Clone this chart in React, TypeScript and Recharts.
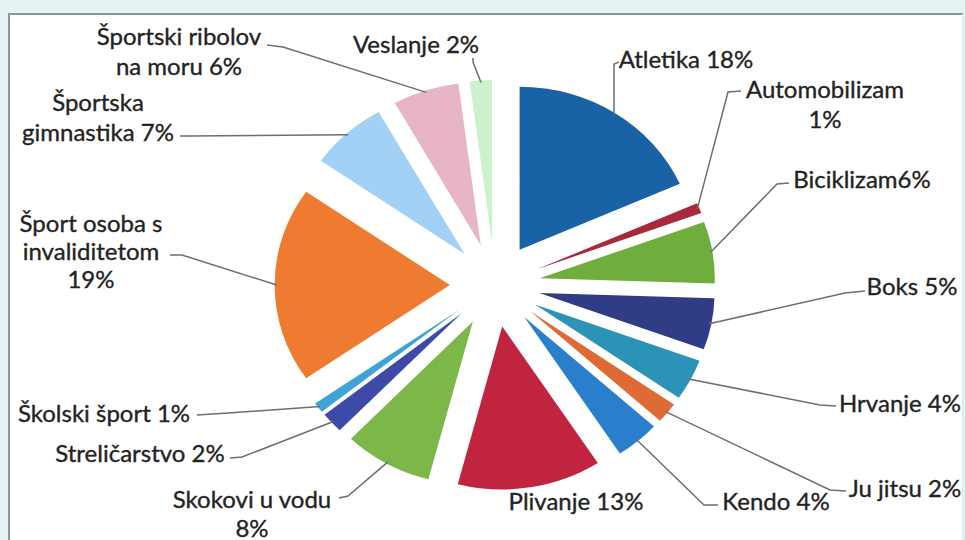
import { PieChart, Pie, Cell, Sector } from 'recharts'

const NAMES = [
  'Atletika',
  'Automobilizam',
  'Biciklizam',
  'Boks',
  'Hrvanje',
  'Ju jitsu',
  'Kendo',
  'Plivanje',
  'Skokovi u vodu',
  'Streličarstvo',
  'Školski šport',
  'Šport osoba s invaliditetom',
  'Športska gimnastika',
  'Športski ribolov na moru',
  'Veslanje',
]

const SHARES = [18, 1, 6, 5, 4, 2, 4, 13, 8, 2, 1, 19, 7, 6, 2]

const COLORS = [
  '#1a62a6',
  '#a8283c',
  '#6fae3d',
  '#2e3d86',
  '#2b93b6',
  '#df6a33',
  '#2a7fcc',
  '#c0243f',
  '#7cb74a',
  '#3d4aa8',
  '#3fa3d8',
  '#ee7b30',
  '#a3d1f6',
  '#e7b5c7',
  '#ccf2cc',
]

// label text lines + where Excel put them (text centre, leader start, elbow)
type LabelLayout = { lines: string[]; x: number; y: number[]; leader?: [number, number][] }
const LABELS: LabelLayout[] = [
  { lines: ['Atletika 18%'], x: 686, y: [58], leader: [[619, 62], [614, 64]] },
  { lines: ['Automobilizam', '1%'], x: 825, y: [88, 118], leader: [[741, 91], [728, 92]] },
  { lines: ['Biciklizam6%'], x: 862, y: [178], leader: [[789, 183], [777, 184]] },
  { lines: ['Boks 5%'], x: 912, y: [285], leader: [[865, 291], [845, 293]] },
  { lines: ['Hrvanje 4%'], x: 900, y: [402], leader: [[836, 406], [820, 405]] },
  { lines: ['Ju jitsu 2%'], x: 905, y: [487], leader: [[846, 491], [830, 490]] },
  { lines: ['Kendo 4%'], x: 776, y: [500], leader: [[718, 505], [704, 505]] },
  { lines: ['Plivanje 13%'], x: 576, y: [500] },
  { lines: ['Skokovi u vodu', '8%'], x: 252, y: [498, 527], leader: [[339, 498], [348, 496]] },
  { lines: ['Streličarstvo 2%'], x: 140, y: [452], leader: [[230, 458], [242, 457]] },
  { lines: ['Školski šport 1%'], x: 104, y: [412], leader: [[197, 415], [228, 413]] },
  { lines: ['Šport osoba s', 'invaliditetom', '19%'], x: 91, y: [222, 250, 278], leader: [[170, 255], [182, 255]] },
  { lines: ['Športska', 'gimnastika 7%'], x: 98, y: [101, 131], leader: [[180, 136], [190, 136]] },
  { lines: ['Športski ribolov', 'na moru 6%'], x: 179, y: [35, 65], leader: [[267, 45], [283, 47]] },
  { lines: ['Veslanje 2%'], x: 416, y: [43], leader: [[473, 58], [473, 62]] },
]

const EXPLODE = 42
const SX = 1.075 // the scan is a bit wider than tall
const RADIUS = 163

const data = NAMES.map((name, i) => ({ name, value: SHARES[i] }))

function ExplodedSector(props: any) {
  const { cx, cy, innerRadius, outerRadius, startAngle, endAngle, fill } = props
  const mid = ((startAngle + endAngle) / 2) * (Math.PI / 180)
  const ox = EXPLODE * Math.cos(mid)
  const oy = -EXPLODE * Math.sin(mid)
  return (
    <g transform={`translate(${cx} ${cy}) scale(${SX} 1) translate(${ox} ${oy}) translate(${-cx} ${-cy})`}>
      <Sector
        cx={cx}
        cy={cy}
        innerRadius={innerRadius}
        outerRadius={outerRadius}
        startAngle={startAngle}
        endAngle={endAngle}
        fill={fill}
        stroke="none"
      />
    </g>
  )
}

function renderLabel(props: any) {
  const { cx, cy, midAngle, outerRadius, index } = props
  const lay = LABELS[index]
  const a = (midAngle * Math.PI) / 180
  const r = outerRadius + EXPLODE - 2
  const ex = cx + SX * r * Math.cos(a)
  const ey = cy - r * Math.sin(a)
  return (
    <g key={`lbl-${index}`}>
      {lay.leader && (
        <polyline
          points={[...lay.leader, [ex, ey]].map((p) => p.join(',')).join(' ')}
          fill="none"
          stroke="#6e6e6e"
          strokeWidth={1.5}
        />
      )}
      {lay.lines.map((t, j) => (
        <text
          key={j}
          x={lay.x}
          y={lay.y[j]}
          textAnchor="middle"
          dominantBaseline="central"
          fontFamily="Lato, sans-serif"
          fontSize={24}
          fill="#232323"
          stroke="#232323"
          strokeWidth={0.35}
        >
          {t}
        </text>
      ))}
    </g>
  )
}

export default function App() {
  return (
    <div style={{ position: 'absolute', left: 0, top: 0, width: 965, height: 540, background: '#e4f4f2', overflow: 'hidden' }}>
      <div
        style={{
          position: 'absolute',
          left: 8,
          top: 13,
          width: 952,
          height: 540,
          background: '#fff',
          borderTop: '2px solid #8c9595',
          borderLeft: '2px solid #8c9595',
          borderRight: '1px solid #e2e6e6',
        }}
      />
      <div style={{ position: 'absolute', left: 0, top: 0 }}>
        <PieChart width={965} height={540}>
          <Pie
            data={data}
            dataKey="value"
            nameKey="name"
            cx={490}
            cy={280}
            outerRadius={RADIUS}
            startAngle={90}
            endAngle={-270}
            stroke="none"
            label={renderLabel}
            labelLine={false}
            shape={ExplodedSector}
            inactiveShape={ExplodedSector}
            activeShape={ExplodedSector}
            isAnimationActive={false}
          >
            {data.map((d, i) => (
              <Cell key={d.name} fill={COLORS[i]} />
            ))}
          </Pie>
        </PieChart>
      </div>
    </div>
  )
}
